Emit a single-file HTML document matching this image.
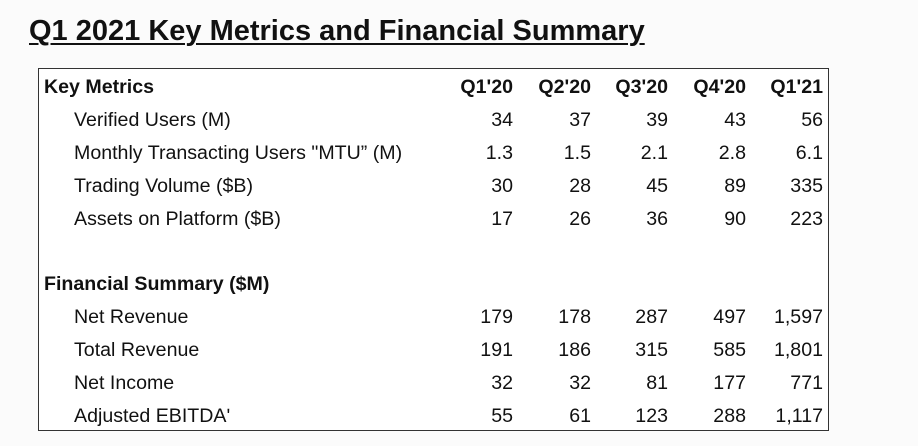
<!DOCTYPE html>
<html><head><meta charset="utf-8"><style>
body{margin:0;width:918px;height:446px;background:#fbfbfb;font-family:"Liberation Sans",Arial,sans-serif;color:#111;position:relative;overflow:hidden}
#title{position:absolute;left:29px;top:15px;font-size:29px;font-weight:bold;text-decoration:underline;text-decoration-thickness:2px;text-underline-offset:3px;white-space:nowrap}
#box{position:absolute;left:38px;top:68px;width:789px;height:361px;border:1.5px solid #333;background:#fff}
.t{position:absolute;font-size:19.6px;line-height:22px;white-space:nowrap}
.b{font-weight:bold}
.r{text-align:right;width:80px}
</style></head><body>
<div id="title">Q1 2021 Key Metrics and Financial Summary</div>
<div id="box"></div>
<script>
const quarters=["Q1'20","Q2'20","Q3'20","Q4'20","Q1'21"];
const metricLabels=["Verified Users (M)","Monthly Transacting Users \"MTU\u201d (M)","Trading Volume ($B)","Assets on Platform ($B)"];
const metricValues=[["34","37","39","43","56"],["1.3","1.5","2.1","2.8","6.1"],["30","28","45","89","335"],["17","26","36","90","223"]];
const finLabels=["Net Revenue","Total Revenue","Net Income","Adjusted EBITDA\u02b9"];
const finValues=[["179","178","287","497","1,597"],["191","186","315","585","1,801"],["32","32","81","177","771"],["55","61","123","288","1,117"]];
const colRight=[513,591,668,746,823];
const rowH=33;
function txt(x,y,s,cls,name){const d=document.createElement('div');d.className='t '+cls;d.textContent=s;d.style.left=x+'px';d.style.top=y+'px';


document.body.appendChild(d);return d;}
function section(title,y0,labels,vals,hdr,prefix){
 txt(44,y0-10,title,'b',prefix+'-header');
 if(hdr)quarters.forEach((q,i)=>txt(colRight[i]-80,y0-10,q,'b r','col-header-'+i));
 labels.forEach((l,r)=>{const y=y0+(r+1)*rowH-10;txt(74,y,l,'',prefix+'-label-'+r);
  vals[r].forEach((v,i)=>txt(colRight[i]-80,y,v,'r',prefix+'-value-'+r+'-'+i));});
}
section("Key Metrics",86,metricLabels,metricValues,true,'key-metrics');
section("Financial Summary ($M)",283,finLabels,finValues,false,'financial');
</script>
</body></html>
